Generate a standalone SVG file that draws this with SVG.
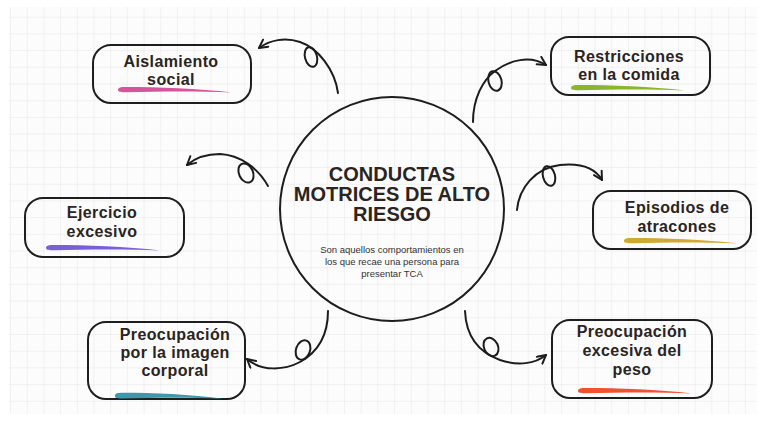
<svg xmlns="http://www.w3.org/2000/svg" width="765" height="422" viewBox="0 0 765 422">
<defs>
<pattern id="grid" patternUnits="userSpaceOnUse" x="10" y="0" width="16.7" height="16.7">
<path d="M0,0 H16.7 M0,0 V16.7" fill="none" stroke="#e6e6e6" stroke-width="1"/>
</pattern>
<marker id="ah" viewBox="0 0 10 10" refX="9" refY="5" markerWidth="11" markerHeight="11" orient="auto" markerUnits="userSpaceOnUse">
<path d="M1.5,1 L9,5 L1.5,9" fill="none" stroke="#1c1c1c" stroke-width="1.8" stroke-linecap="round" stroke-linejoin="round"/>
</marker>
<path id="brush" d="M0,0 C0,-2.5 3,-3 8,-3 C40,-3 80,-1.5 114,2.5 C80,1 40,1.5 8,2.2 C3,2.3 0,2 0,0 Z"/>
</defs>
<style>
.box{fill:none;stroke:#1e1e1e;stroke-width:2}
.lbl{font-family:"Liberation Sans",Arial,sans-serif;font-weight:bold;font-size:16px;fill:#2a2422;text-anchor:middle;letter-spacing:0.4px}
.title{font-family:"Liberation Sans",Arial,sans-serif;font-weight:bold;font-size:20px;fill:#2a2422;text-anchor:middle}
.desc{font-family:"Liberation Sans",Arial,sans-serif;font-size:9.5px;fill:#333;text-anchor:middle}
.con{fill:none;stroke:#1c1c1c;stroke-width:2;stroke-linecap:round}
</style>
<rect width="765" height="422" fill="#ffffff"/>
<rect x="9" y="7" width="748" height="407" fill="#fcfcfc"/>
<rect x="9" y="7" width="748" height="407" fill="url(#grid)"/>

<g id="center">
<ellipse cx="392" cy="209" rx="112" ry="112" class="box"/>
<text class="title" x="392" y="181">CONDUCTAS</text>
<text class="title" x="392" y="201">MOTRICES DE ALTO</text>
<text class="title" x="392" y="221">RIESGO</text>
<text class="desc" x="392" y="253">Son aquellos comportamientos en</text>
<text class="desc" x="392" y="265">los que recae una persona para</text>
<text class="desc" x="392" y="277">presentar TCA</text>
</g>

<g id="aislamiento">
<rect x="93" y="45" width="158" height="58" rx="18" class="box"/>
<text class="lbl" x="171" y="67">Aislamiento</text>
<text class="lbl" x="171" y="85">social</text>
<use href="#brush" transform="translate(118,90)" fill="#d6549c"/>
</g>

<g id="restricciones">
<rect x="551" y="37" width="159" height="58" rx="18" class="box"/>
<text class="lbl" x="629" y="62">Restricciones</text>
<text class="lbl" x="629" y="80">en la comida</text>
<use href="#brush" transform="translate(571,88)" fill="#8bb52a"/>
</g>

<g id="ejercicio">
<rect x="25" y="198" width="159" height="59" rx="18" class="box"/>
<text class="lbl" x="102" y="218">Ejercicio</text>
<text class="lbl" x="102" y="237">excesivo</text>
<use href="#brush" transform="translate(46,248)" fill="#7b5fd6"/>
</g>

<g id="episodios">
<rect x="593" y="191" width="158" height="58" rx="18" class="box"/>
<text class="lbl" x="677" y="213">Episodios de</text>
<text class="lbl" x="677" y="232">atracones</text>
<use href="#brush" transform="translate(624,241)" fill="#d2a834"/>
</g>

<g id="imagen">
<rect x="88" y="322" width="157" height="77" rx="18" class="box"/>
<text class="lbl" x="175" y="340">Preocupación</text>
<text class="lbl" x="175" y="358">por la imagen</text>
<text class="lbl" x="175" y="376">corporal</text>
<use href="#brush" transform="translate(115,396) scale(0.95,1.1)" fill="#3d98a8"/>
</g>

<g id="peso">
<rect x="552" y="320" width="160" height="78" rx="18" class="box"/>
<text class="lbl" x="632" y="337">Preocupación</text>
<text class="lbl" x="632" y="356">excesiva del</text>
<text class="lbl" x="632" y="375">peso</text>
<use href="#brush" transform="translate(578,391)" fill="#f0512f"/>
</g>

<g id="connectors">
<path class="con" marker-end="url(#ah)" d="M338,93 C335,70 318,48 300,42 C285,37 270,40 259,48"/>
<ellipse class="con" cx="311" cy="57" rx="6" ry="10" transform="rotate(-15 311 57)"/>

<path class="con" marker-end="url(#ah)" d="M473,122 C473,98 483,80 495,71 C510,60 530,55 546,65"/>
<ellipse class="con" cx="495" cy="81" rx="6.5" ry="10" transform="rotate(-15 495 81)"/>

<path class="con" marker-end="url(#ah)" d="M268,186 C258,168 240,155 220,154 C205,154 195,158 187,165"/>
<ellipse class="con" cx="246" cy="173" rx="7" ry="10" transform="rotate(-25 246 173)"/>

<path class="con" marker-end="url(#ah)" d="M517,210 C519,188 535,168 560,165 C580,163 595,168 602,180"/>
<ellipse class="con" cx="549" cy="176" rx="6" ry="10" transform="rotate(-15 549 176)"/>

<path class="con" marker-end="url(#ah)" d="M328,311 C328,335 318,352 300,362 C285,370 262,372 247,359"/>
<ellipse class="con" cx="303" cy="350" rx="7" ry="10" transform="rotate(20 303 350)"/>

<path class="con" marker-end="url(#ah)" d="M465,311 C466,335 478,352 500,360 C518,366 535,364 546,355"/>
<ellipse class="con" cx="491" cy="347" rx="7" ry="9.5" transform="rotate(-25 491 347)"/>
</g>
</svg>
